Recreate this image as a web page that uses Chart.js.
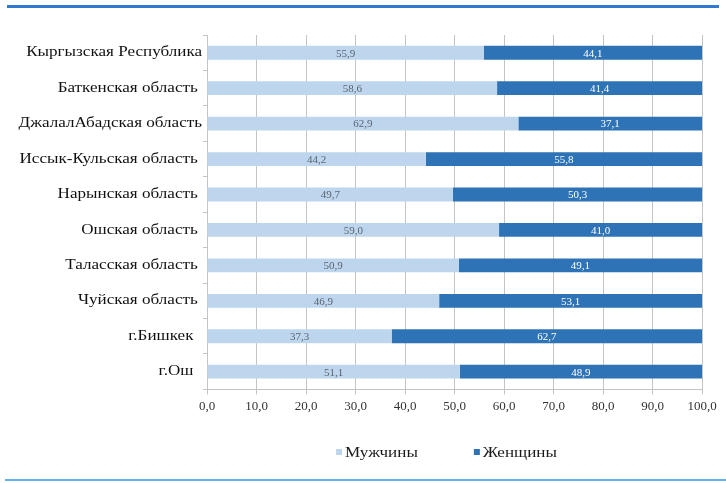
<!DOCTYPE html>
<html>
<head>
<meta charset="utf-8">
<script src="https://cdn.jsdelivr.net/npm/chart.js@4/dist/chart.umd.min.js"></script>
<style>
    html, body { margin: 0; padding: 0; background: #fff; }
    #wrap { position: relative; width: 726px; height: 483px; }
    #top-line { position: absolute; left: 7px; top: 5px; width: 712px; height: 3px; background: #2f78d4; }
    #bottom-line { position: absolute; left: 5px; top: 479px; width: 721px; height: 2px; background: #66b2ec; }
</style>
</head>
<body>
<div id="wrap">
    <canvas id="chart" width="726" height="483"></canvas>
    <div id="top-line"></div>
    <div id="bottom-line"></div>
</div>
<script>
// --- Data ---
const regions = [
    'Кыргызская Республика',
    'Баткенская область ',
    'ДжалалАбадская область',
    'Иссык-Кульская область ',
    'Нарынская область ',
    'Ошская область ',
    'Таласская область ',
    'Чуйская область ',
    'г.Бишкек  ',
    'г.Ош  '
];
const men = [55.9, 58.6, 62.9, 44.2, 49.7, 59.0, 50.9, 46.9, 37.3, 51.1];
const women = [44.1, 41.4, 37.1, 55.8, 50.3, 41.0, 49.1, 53.1, 62.7, 48.9];
const seriesNames = ['Мужчины', 'Женщины'];
const xTicks = [0, 10, 20, 30, 40, 50, 60, 70, 80, 90, 100];

const FONT = "'Liberation Serif', 'Times New Roman', serif";
const LIGHT = '#bdd6ee';
const DARK = '#2e73b5';
const GRID = '#c4c4c4';
const STRETCH = 1.22; // the text in the picture is drawn wide

const fmt = v => v.toFixed(1).replace('.', ',');

// --- Plugins ---
// values written in the middle of each bar piece
const barLabels = {
    id: 'barLabels',
    afterDatasetsDraw(chart) {
        const ctx = chart.ctx;
        ctx.save();
        ctx.font = `11px ${FONT}`;
        ctx.textAlign = 'center';
        ctx.textBaseline = 'middle';
        chart.data.datasets.forEach((ds, i) => {
            const meta = chart.getDatasetMeta(i);
            ctx.fillStyle = i === 0 ? '#5a6470' : '#ffffff';
            meta.data.forEach((bar, j) => {
                const x = (bar.x + bar.base) / 2;
                ctx.fillText(fmt(ds.data[j]), x, bar.y + 1);
            });
        });
        ctx.restore();
    }
};

// legend under the axis, centred on the plot
const bottomLegend = {
    id: 'bottomLegend',
    afterDraw(chart) {
        const ctx = chart.ctx;
        const area = chart.chartArea;
        const y = 452;
        const box = 6;
        const gap = 3;
        const spacing = 56;
        ctx.save();
        ctx.font = `14px ${FONT}`;
        ctx.textBaseline = 'middle';
        const widths = chart.data.datasets.map(ds => box + gap + ctx.measureText(ds.label).width * STRETCH);
        const total = widths.reduce((a, b) => a + b, 0) + spacing * (widths.length - 1);
        let x = (area.left + area.right) / 2 - 8 - total / 2;
        chart.data.datasets.forEach((ds, i) => {
            ctx.fillStyle = ds.backgroundColor;
            ctx.fillRect(x, y - box / 2, box, box);
            ctx.save();
            ctx.translate(x + box + gap, 0);
            ctx.scale(STRETCH, 1);
            ctx.fillStyle = '#1a1a1a';
            ctx.fillText(ds.label, 0, y + 1);
            ctx.restore();
            x += widths[i] + spacing;
        });
        ctx.restore();
    }
};

// --- Chart ---
const chart = new Chart(document.getElementById('chart'), {
    type: 'bar',
    data: {
        labels: regions,
        datasets: [
            { label: seriesNames[0], data: men, backgroundColor: LIGHT, borderWidth: 0 },
            { label: seriesNames[1], data: women, backgroundColor: DARK, borderWidth: 0 }
        ]
    },
    options: {
        indexAxis: 'y',
        responsive: false,
        animation: false,
        layout: { padding: { top: 35, right: 24, bottom: 65, left: 0 } },
        datasets: { bar: { categoryPercentage: 1, barPercentage: 0.39 } },
        plugins: {
            legend: { display: false },
            tooltip: { enabled: false }
        },
        scales: {
            x: {
                stacked: true,
                min: 0,
                max: 100,
                afterBuildTicks: scale => { scale.ticks = xTicks.map(v => ({ value: v })); },
                grid: { color: GRID, tickLength: 5, lineWidth: 1 },
                border: { display: true, color: GRID },
                ticks: {
                    color: '#333',
                    font: { family: FONT, size: 13 },
                    padding: 4,
                    maxRotation: 0,
                    callback: v => fmt(v)
                }
            },
            y: {
                stacked: true,
                afterFit: scale => { scale.width = 207; },
                grid: { display: true, drawOnChartArea: false, offset: true, color: GRID, tickLength: 4 },
                border: { display: true, color: GRID },
                ticks: {
                    color: '#111',
                    font: { family: FONT, size: 14 },
                    padding: 1
                }
            }
        }
    },
    plugins: [barLabels, bottomLegend]
});

// stretch the region names sideways around their right edge
const yScale = chart.scales.y;
const drawYLabels = yScale.drawLabels;
yScale.drawLabels = function (area) {
    const ctx = this.ctx;
    const edge = this.right - 4 - 1;
    ctx.save();
    ctx.translate(edge, 0);
    ctx.scale(STRETCH, 1);
    ctx.translate(-edge, 0);
    drawYLabels.call(this, area);
    ctx.restore();
};
chart.draw();
</script>
</body>
</html>
